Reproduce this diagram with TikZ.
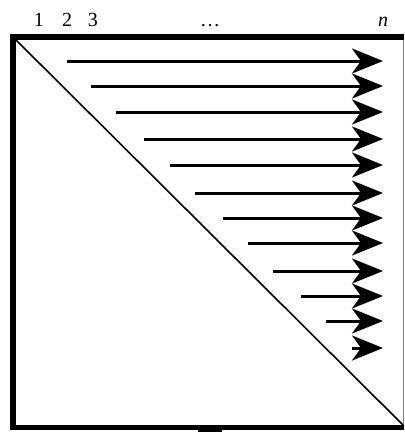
\documentclass[tikz,border=0pt]{standalone}
\usepackage{fontspec}
\setmainfont{Liberation Serif}
\usetikzlibrary{arrows.meta}
\begin{document}
\begin{tikzpicture}[x=1pt,y=-1pt,
  flow/.style={line width=3pt,-{Stealth[length=31pt,width=25pt,inset=9pt]}},
  lbl/.style={font=\fontsize{20}{24}\selectfont,inner sep=0pt,anchor=base}]
\useasboundingbox (0,0) rectangle (405,432);
% box
\coordinate (tl) at (16,40);
\coordinate (br) at (403,425);
\draw[gray,line width=1pt] (403.5,34) -- (403.5,430);
\draw[line width=6pt] (13,430) -- (13,37) -- (403.5,37);
\draw[line width=5pt] (10,427.5) -- (404,427.5);
\fill (198,430) rectangle (222,432);
\draw[line width=1.6pt] (tl) -- (br);
% labels
\node[lbl] (l1) at (39,26) {1};
\node[lbl] (l2) at (67,26) {2};
\node[lbl] (l3) at (93,26) {3};
\node[lbl] (ld) at (210,26) {\dots};
\node[lbl] (ln) at (383,26) {\textit{n}};
% arrows
\foreach \i/\y/\x in {1/61/67,2/86/91,3/112/116,4/139/144,5/165/170,6/193/195,7/218/223,8/243/248,9/271/273,10/296/301,11/321/326,12/348/352}{
  \coordinate (s\i) at (\x,\y);
  \coordinate (e\i) at (383,\y);
  \draw[flow] (s\i) -- (e\i);
}
\end{tikzpicture}
\end{document}
